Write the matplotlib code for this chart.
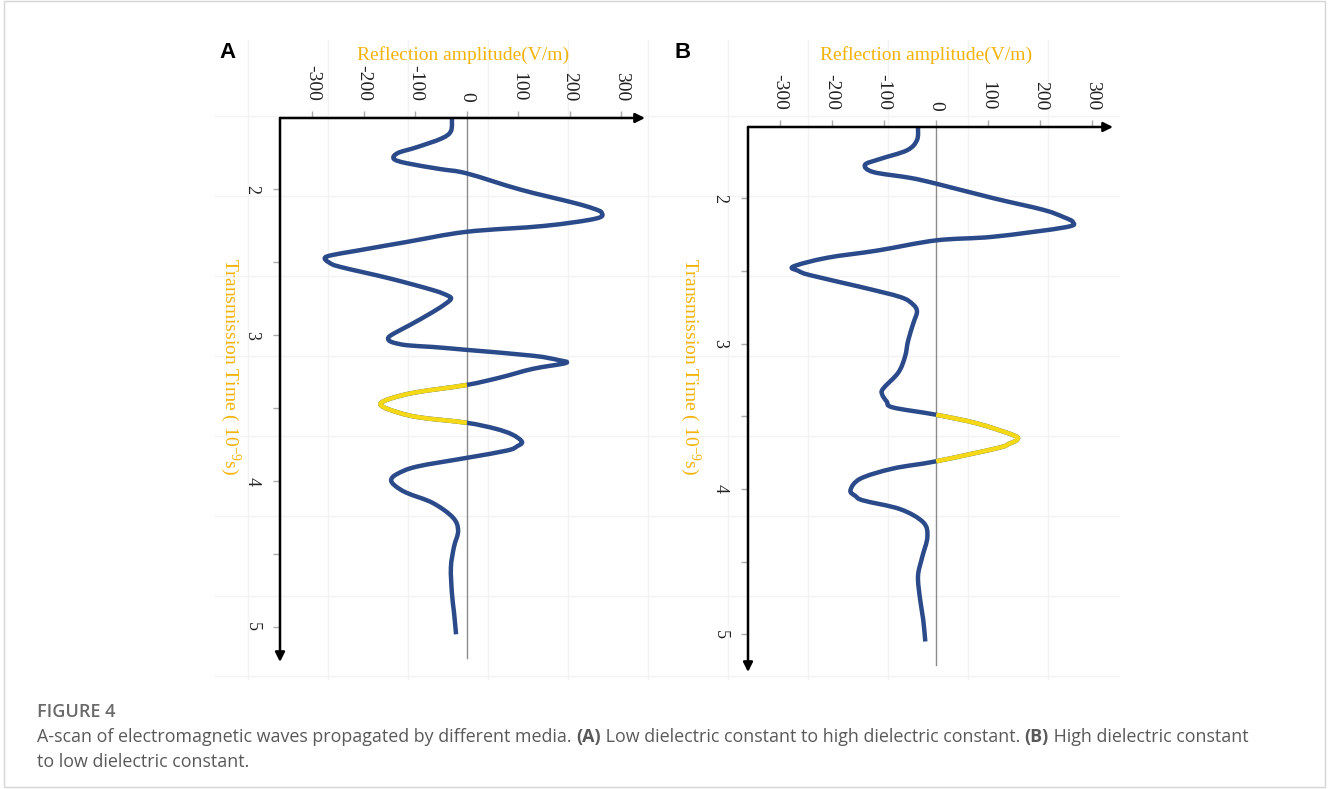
import matplotlib
matplotlib.use('Agg')
import matplotlib.pyplot as plt
from matplotlib.ticker import MultipleLocator
from matplotlib.patches import Rectangle, PathPatch
from matplotlib.path import Path
import numpy as np

plt.rcParams['mathtext.fontset'] = 'custom'
plt.rcParams['mathtext.rm'] = 'Liberation Serif'
plt.rcParams['mathtext.it'] = 'Liberation Serif:italic'

# ---- data: (time 1e-9 s, reflection amplitude V/m) ----
time_a = np.array([1.51, 1.60, 1.65, 1.71, 1.75, 1.79, 1.82, 1.86, 1.89,
                   2.00, 2.09, 2.13, 2.16, 2.20, 2.25, 2.29, 2.36, 2.42,
                   2.45, 2.47, 2.50, 2.53, 2.61, 2.69, 2.73, 2.75, 2.78, 2.84,
                   2.93, 2.99, 3.02, 3.046, 3.068, 3.08, 3.10, 3.14, 3.17, 3.19,
                   3.23, 3.29, 3.34, 3.39, 3.43, 3.47, 3.51, 3.56, 3.60,
                   3.64, 3.68, 3.73, 3.76, 3.79, 3.84, 3.90, 3.95, 3.99, 4.03,
                   4.08, 4.15, 4.25, 4.34, 4.45, 4.59, 4.77, 4.90, 5.05])
amp_a = np.array([-29, -31, -49, -97, -134, -142, -117, -52, 0,
                  103, 206, 245, 262, 250, 150, 0, -117, -214,
                  -262, -276, -268, -247, -150, -66, -36, -31, -40, -66,
                  -111, -143, -153, -146, -117, -66, 0, 128, 178, 192,
                  128, 64, 0, -97, -145, -168, -150, -97, 0,
                  55, 88, 107, 98, 78, 0, -97, -135, -147, -140,
                  -117, -66, -27, -17, -25, -31, -29, -25, -21])
yellow_a = (3.34, 3.60)

time_b = np.array([1.51, 1.60, 1.67, 1.73, 1.77, 1.82, 1.86, 1.90, 2.00,
                   2.08, 2.13, 2.165, 2.20, 2.265, 2.29, 2.36, 2.41, 2.47,
                   2.50, 2.53, 2.61, 2.68, 2.73, 2.78, 2.86, 2.98, 3.09, 3.20,
                   3.31, 3.35, 3.40, 3.44, 3.49, 3.55, 3.63, 3.66, 3.69, 3.72,
                   3.81, 3.86, 3.93, 4.01, 4.05, 4.08, 4.14, 4.23, 4.33, 4.47,
                   4.60, 4.76, 4.90, 5.05])
amp_b = np.array([-35, -37, -56, -108, -137, -121, -50, 0, 110,
                  206, 245, 263, 248, 110, 0, -113, -210, -275,
                  -265, -242, -146, -69, -45, -37, -44, -54, -60, -73,
                  -102, -104, -95, -83, 0, 79, 148, 156, 140, 117,
                  0, -83, -146, -165, -155, -140, -69, -25, -17, -27,
                  -35, -31, -25, -21])
yellow_b = (3.49, 3.81)

amp_ticks = [-300, -200, -100, 0, 100, 200, 300]
time_ticks = [2, 3, 4, 5]
time_minor = [2.5, 3.5, 4.5]

W, H = 1328, 789
fig = plt.figure(figsize=(W / 100, H / 100), dpi=100)


def fx(px):
    return px / W


def fy(py):
    return 1 - py / H


blue = '#2a4a8a'
yellow = '#f5d916'
gold = '#f3b30a'
serif = 'Liberation Serif'

# faint background grid of the scanned figure
bg = fig.add_axes([fx(215), fy(680), fx(1120) - fx(215), (680 - 40) / H], zorder=-1)
bg.set_xlim(215, 1120)
bg.set_ylim(680, 40)
bg.xaxis.set_major_locator(MultipleLocator(80, offset=8))
bg.yaxis.set_major_locator(MultipleLocator(80, offset=36))
bg.grid(True, color='#f3f3f3', lw=1)
bg.tick_params(length=0, labelbottom=False, labelleft=False)
for s in bg.spines.values():
    s.set_visible(False)


def bezier_segments(x, y):
    # smooth curve through the read points (Catmull-Rom as cubic Bezier)
    p = np.column_stack([x, y]).astype(float)
    n = len(p)
    segs = []
    for i in range(n - 1):
        p0 = p[i - 1] if i > 0 else p[i]
        p3 = p[i + 2] if i + 2 < n else p[i + 1]
        c1 = p[i] + (p[i + 1] - p0) / 6
        c2 = p[i + 1] - (p3 - p[i]) / 6
        segs.append((p[i], c1, c2, p[i + 1]))
    return segs


def segs_to_path(segs):
    verts, codes = [], []
    for k, (a0, c1, c2, a1) in enumerate(segs):
        if k == 0 or not np.allclose(a0, segs[k - 1][3]):
            verts.append(a0)
            codes.append(Path.MOVETO)
        verts += [c1, c2, a1]
        codes += [Path.CURVE4] * 3
    return Path(verts, codes)


def draw_panel(left, right, top, bottom, xlim, ylim, zero_end, t, a, hl, letter, letter_x, xlab_x, ylab_x):
    ax = fig.add_axes([fx(left), fy(bottom), fx(right) - fx(left), (bottom - top) / H])
    ax.set_xlim(xlim)
    ax.set_ylim(ylim)
    ax.patch.set_alpha(0)
    for s in ax.spines.values():
        s.set_visible(False)

    ax.xaxis.tick_top()
    ax.set_xticks(amp_ticks)
    ax.set_xticklabels([str(v) for v in amp_ticks], rotation=-90, family=serif, fontsize=14)
    ax.tick_params(axis='x', direction='out', length=5, width=1, color='#aaaaaa', pad=7, labelcolor='#222222')

    ax.set_yticks(time_ticks)
    ax.set_yticks(time_minor, minor=True)
    ax.set_yticklabels([str(v) for v in time_ticks], rotation=-90, family=serif, fontsize=13, va='center')
    ax.tick_params(axis='y', which='both', direction='out', length=5, width=1, color='#aaaaaa', pad=9, labelcolor='#222222')

    ax.plot([0, 0], [ylim[1], zero_end], color='#8c8c8c', lw=1, zorder=2)

    segs = bezier_segments(a, t)
    ax.add_patch(PathPatch(segs_to_path(segs), fill=False, edgecolor=blue, lw=3.2,
                           capstyle='butt', joinstyle='round', zorder=3))
    ysegs = [s for s, t0, t1 in zip(segs, t[:-1], t[1:]) if t0 >= hl[0] and t1 <= hl[1]]
    ax.add_patch(PathPatch(segs_to_path(ysegs), fill=False, edgecolor=yellow, lw=3.2,
                           capstyle='butt', joinstyle='round', zorder=4))

    arrow = dict(arrowstyle='-|>', color='black', lw=1.8, mutation_scale=14, shrinkA=0, shrinkB=0)
    ax.annotate('', xy=(1, 1), xytext=(0, 1), xycoords='axes fraction', arrowprops=arrow, annotation_clip=False)
    ax.annotate('', xy=(0, 0), xytext=(0, 1), xycoords='axes fraction', arrowprops=arrow, annotation_clip=False)

    fig.text(fx(xlab_x), fy(55), 'Reflection amplitude(V/m)', color=gold, family=serif, fontsize=14,
             ha='center', va='center')
    fig.text(fx(ylab_x), fy(367), 'Transmission Time ( 10$^{-9}$s)', color=gold, family=serif, fontsize=14,
             ha='center', va='center', rotation=-90)
    fig.text(fx(letter_x), fy(52), letter, family='Liberation Sans', fontweight='bold', fontsize=16,
             ha='center', va='center')
    return ax


draw_panel(280, 645, 118, 662, (-363, 346), (5.24, 1.51), 5.21, time_a, amp_a, yellow_a, 'A', 228, 463, 230)
draw_panel(748, 1113, 127, 672, (-362, 340), (5.26, 1.51), 5.21, time_b, amp_b, yellow_b, 'B', 683, 926, 690)

# caption
cap_font = 'Open Sans'
fig.text(fx(37), fy(712), 'FIGURE 4', family=cap_font, fontweight='semibold', fontsize=13, color='#6a6a6a', va='center')

renderer = fig.canvas.get_renderer()


def text_line(x, y, parts):
    for s, w in parts:
        t = fig.text(fx(x), fy(y), s, family=cap_font, fontweight=w, fontsize=12.9, color='#595959', va='center')
        x += t.get_window_extent(renderer=renderer).width


text_line(37, 737, [('A-scan of electromagnetic waves propagated by different media. ', 'normal'),
                    ('(A)', 'bold'),
                    (' Low dielectric constant to high dielectric constant. ', 'normal'),
                    ('(B)', 'bold'),
                    (' High dielectric constant', 'normal')])
text_line(37, 762, [('to low dielectric constant.', 'normal')])

fig.add_artist(Rectangle((fx(4), fy(787)), fx(1325) - fx(4), (787 - 1) / H, transform=fig.transFigure,
                         fill=False, edgecolor='#d6d6d6', lw=1))

fig.savefig('out.png', dpi=100)
